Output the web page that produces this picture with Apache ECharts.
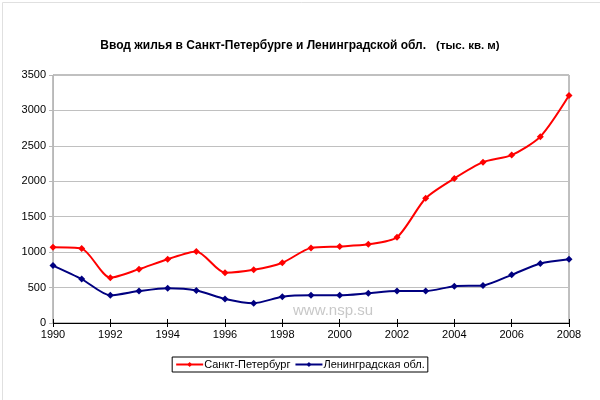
<!DOCTYPE html>
<html>
<head>
<meta charset="utf-8">
<script src="https://cdn.jsdelivr.net/npm/echarts@6/dist/echarts.min.js"></script>
<style>
html,body{margin:0;padding:0;background:#fff;}
#c{width:600px;height:400px;}
</style>
</head>
<body>
<div id="c"></div>
<script>
const years = ['1990','1991','1992','1993','1994','1995','1996','1997','1998','1999','2000','2001','2002','2003','2004','2005','2006','2007','2008'];
const spb = [1070,1050,640,760,900,1010,710,750,850,1060,1080,1110,1210,1760,2040,2270,2370,2630,3210];
const lenobl = [810,620,390,450,490,460,340,280,370,390,390,420,450,450,520,530,680,840,900];
const seriesNames = ['Санкт-Петербург','Ленинградская обл.'];
const titleMain = 'Ввод жилья в Санкт-Петербурге и Ленинградской обл.';
const titleUnit = '(тыс. кв. м)';
const watermark = 'www.nsp.su';

const FONT = 'Liberation Sans';
const chart = echarts.init(document.getElementById('c'));
chart.setOption({
  animation: false,
  backgroundColor: '#fff',
  textStyle: {fontFamily: FONT},
  title: {
    text: '{b|' + titleMain + '}  {n|' + titleUnit + '}',
    left: 'center',
    top: 32,
    textStyle: {
      rich: {
        b: {fontFamily: FONT, fontSize: 12, fontWeight: 'bold', color: '#000'},
        n: {fontFamily: FONT, fontSize: 11.5, color: '#000'}
      }
    }
  },
  graphic: [
    {type: 'rect', left: 0, top: 0, shape: {width: 599, height: 399}, style: {fill: 'none', stroke: '#e0e0e0', lineWidth: 1}, silent: true},
    {type: 'text', left: 293, top: 303, style: {text: watermark, fill: '#c8c8c8', font: '15px ' + FONT}, silent: true, z: 1}
  ],
  grid: {left: 53, right: 31, top: 75, bottom: 77, show: true, borderColor: '#808080', borderWidth: 1},
  legend: {
    data: seriesNames,
    left: 'center',
    top: 357,
    itemGap: 4,
    itemWidth: 27,
    itemHeight: 6,
    padding: [2, 3],
    borderColor: '#000',
    borderWidth: 1,
    borderRadius: 0,
    textStyle: {fontFamily: FONT, fontSize: 11, color: '#000', padding: [0, 0, 0, -4]}
  },
  xAxis: [{
    type: 'category',
    data: years,
    boundaryGap: false,
    axisLine: {lineStyle: {color: '#000', width: 1}},
    axisTick: {interval: 1, length: 4, lineStyle: {color: '#000'}},
    axisLabel: {interval: 1, color: '#000', fontSize: 11, fontFamily: FONT, margin: 6},
    splitLine: {show: false}
  }, {
    type: 'category',
    data: years,
    position: 'bottom',
    boundaryGap: false,
    axisLine: {show: false},
    axisTick: {interval: 1, inside: true, length: 4, lineStyle: {color: '#000'}},
    axisLabel: {show: false},
    splitLine: {show: false}
  }],
  yAxis: {
    type: 'value',
    min: 0,
    max: 3500,
    interval: 500,
    axisLine: {show: true, lineStyle: {color: '#b8b8b8'}},
    axisTick: {show: true, length: 4, lineStyle: {color: '#b8b8b8'}},
    axisLabel: {color: '#000', fontSize: 11, fontFamily: FONT, margin: 7, formatter: v => String(v)},
    splitLine: {lineStyle: {color: '#c0c0c0', width: 1}}
  },
  series: [{
    name: seriesNames[0],
    type: 'line',
    data: spb,
    smooth: 0.25,
    symbol: 'diamond',
    symbolSize: 7,
    itemStyle: {color: '#ff0000'},
    lineStyle: {color: '#ff0000', width: 2},
    z: 3
  }, {
    name: seriesNames[1],
    type: 'line',
    data: lenobl,
    smooth: 0.25,
    symbol: 'diamond',
    symbolSize: 7,
    itemStyle: {color: '#000080'},
    lineStyle: {color: '#000080', width: 2},
    z: 3
  }]
});
</script>
</body>
</html>
